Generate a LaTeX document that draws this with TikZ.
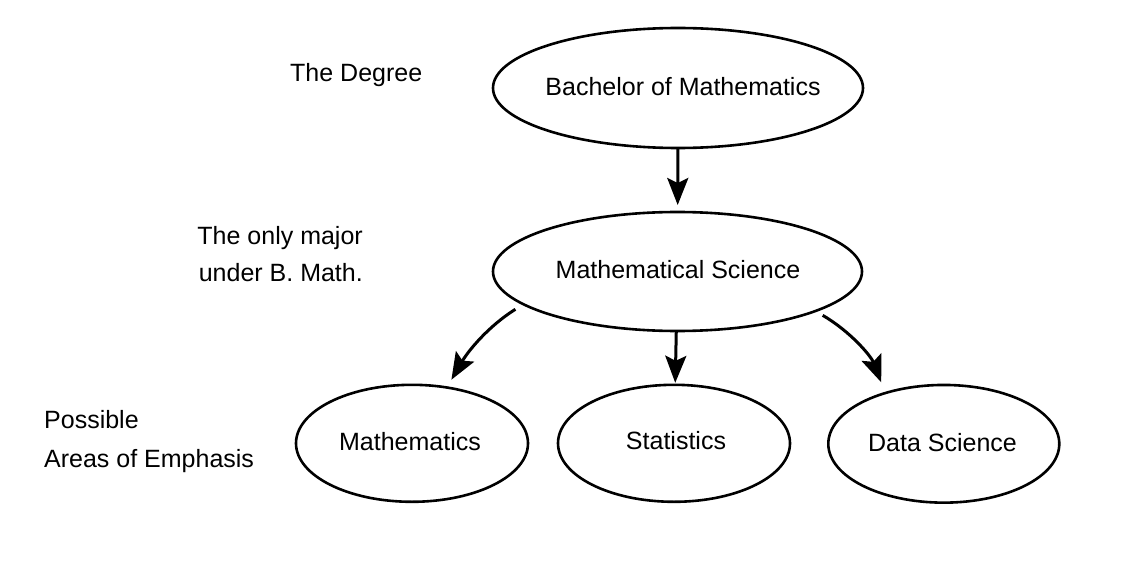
\documentclass[tikz,border=0pt]{standalone}
\usepackage{fontspec}
\setmainfont{Liberation Sans}
\usetikzlibrary{shapes.geometric,arrows.meta}
\begin{document}
\begin{tikzpicture}[x=1pt,y=1pt,
  oval/.style={ellipse, draw, line width=2.6pt, inner sep=0pt, outer sep=0pt},
  lbl/.style={inner sep=0pt, font=\fontsize{25}{37.5}\selectfont},
  intext/.style={lbl, text height=18pt, text depth=0pt},
  arr/.style={line width=3pt, -{Stealth[length=27pt,width=21pt,inset=5pt]}}]
\fill[white] (0,0) rectangle (1130,-564);
\useasboundingbox (0,0) rectangle (1130,-564);

\node[oval, minimum width=370pt, minimum height=120pt,
  label={[intext, xshift=5pt, yshift=1.7pt]center:Bachelor of Mathematics}] (top) at (678,-88) {};
\node[oval, minimum width=369pt, minimum height=119pt,
  label={[intext, xshift=0.5pt, yshift=2.5pt]center:Mathematical Science}] (mid) at (677.5,-271.5) {};
\node[oval, minimum width=232pt, minimum height=117pt,
  label={[intext, xshift=-2pt, yshift=1.5pt]center:Mathematics}] (math) at (412,-443.3) {};
\node[oval, minimum width=232pt, minimum height=117pt,
  label={[intext, xshift=2pt, yshift=3.3pt]center:Statistics}] (stat) at (674,-443.3) {};
\node[oval, minimum width=231pt, minimum height=117.7pt,
  label={[intext, xshift=-1.3pt, yshift=1.8pt]center:Data Science}] (ds) at (943.8,-443.8) {};

\node[lbl, anchor=base west] (deg) at (290,-82) {The Degree};
\node[lbl, anchor=east, align=right] (maj) at (363,-254.2) {The only major\\under B. Math.};
\node[lbl, anchor=west, align=left] (emph) at (44,-441.5) {Possible\\[1.2pt]Areas of Emphasis};

\draw[arr, shorten >=7pt] (top) -- (mid);
\draw[arr, shorten >=2pt] (mid) -- (stat);
\draw[arr, shorten <=9.5pt, shorten >=9pt] (mid.192.6) .. controls +(-35.6,-22.3) and +(21.2,36.3) .. (math.58.8);
\draw[arr, shorten <=8.5pt, shorten >=11.5pt] (mid.344) .. controls +(34.6,-20.2) and +(-14.5,37.3) .. (ds.139);
\end{tikzpicture}
\end{document}
